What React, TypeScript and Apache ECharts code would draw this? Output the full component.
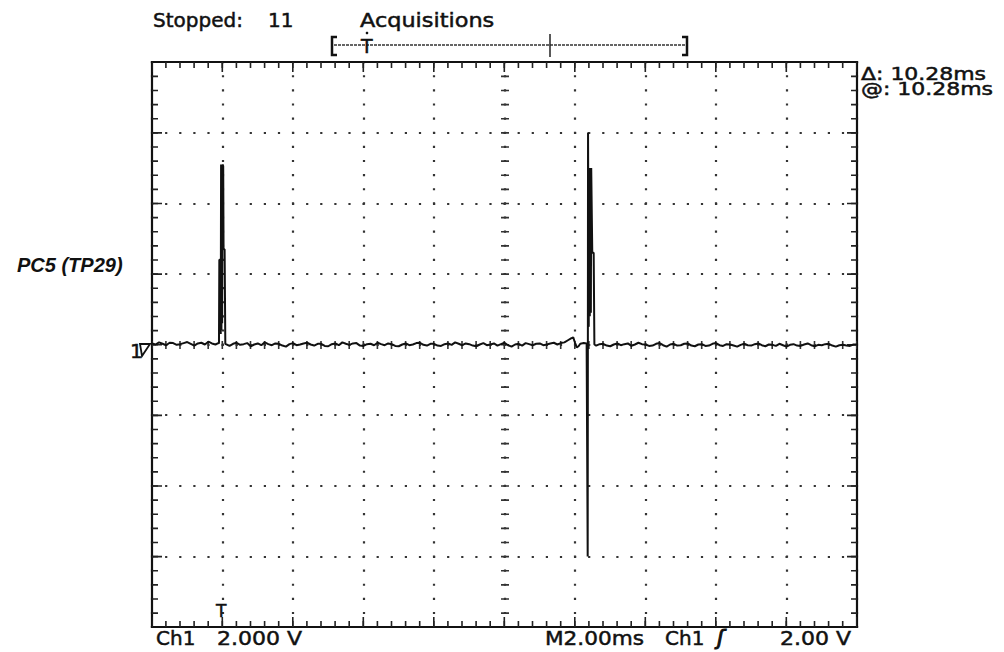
import React, { useEffect, useRef } from "react";
import * as echarts from "echarts";

// Time axis in ms (trigger at 0), voltage axis in V (2 V/div, 2 ms/div)
const timeMin = -2;
const timeMax = 18;
const timeStep = 2;
const voltMin = -8;
const voltMax = 8;
const voltStep = 2;

// baseline before first pulse [ms, V]
const baselineA: [number, number][] = [
  [-2.0, 0.03], [-1.9, 0.0], [-1.8, 0.06], [-1.7, 0.02], [-1.6, -0.02], [-1.5, 0.05], [-1.4, 0.04],
  [-1.3, -0.01], [-1.2, 0.01], [-1.1, 0.04], [-1.0, 0.07], [-0.9, 0.02], [-0.8, -0.03],
  [-0.7, 0.03], [-0.6, 0.05], [-0.5, 0.0], [-0.4, 0.08], [-0.3, 0.03], [-0.2, 0.0], [-0.12, 0.04],
];
// first pulse (PC5 high)
const pulse1: [number, number][] = [
  [-0.1, 0.03], [-0.09, 2.4], [-0.06, 2.4], [-0.05, 0.3], [-0.04, 5.1], [-0.03, 0.4],
  [-0.02, 5.1], [-0.01, 0.6], [0.0, 5.1], [0.02, 5.05], [0.03, 2.7], [0.06, 2.7], [0.08, 0.02],
];
// baseline between pulses
const baselineB: [number, number][] = [
  [0.2, -0.04], [0.3, 0.02], [0.4, 0.05], [0.5, -0.01], [0.6, 0.01], [0.7, 0.04], [0.8, -0.05],
  [0.9, 0.0], [1.0, 0.03], [1.1, -0.02], [1.2, 0.06], [1.3, 0.01], [1.4, -0.02], [1.5, 0.03],
  [1.6, 0.02], [1.7, -0.03], [1.8, -0.06], [1.9, 0.01], [2.0, 0.04], [2.1, -0.02], [2.2, 0.0],
  [2.3, 0.03], [2.4, 0.05], [2.5, 0.0], [2.6, -0.03], [2.7, 0.02], [2.8, 0.02], [2.9, -0.04],
  [3.0, -0.05], [3.1, 0.01], [3.2, 0.03], [3.3, -0.02], [3.4, 0.06], [3.5, 0.02], [3.6, -0.01],
  [3.7, 0.03], [3.8, 0.04], [3.9, -0.03], [4.0, -0.04], [4.1, 0.01], [4.2, 0.02], [4.3, -0.02],
  [4.4, 0.05], [4.5, 0.01], [4.6, -0.02], [4.7, 0.03], [4.8, 0.01], [4.9, -0.04], [5.0, -0.05],
  [5.1, 0.0], [5.2, 0.03], [5.3, -0.02], [5.4, 0.0], [5.5, 0.04], [5.6, 0.05], [5.7, -0.01],
  [5.8, -0.03], [5.9, 0.02], [6.0, 0.02], [6.1, -0.03], [6.2, -0.04], [6.3, 0.01], [6.4, 0.03],
  [6.5, -0.01], [6.6, 0.06], [6.7, 0.02], [6.8, -0.02], [6.9, 0.03], [7.0, 0.01], [7.1, -0.03],
  [7.2, -0.05], [7.3, 0.0], [7.4, 0.04], [7.5, -0.02], [7.6, 0.0], [7.7, 0.03], [7.8, -0.03],
  [7.9, 0.01], [8.0, 0.05], [8.1, -0.02], [8.2, -0.06], [8.3, 0.0], [8.4, 0.02], [8.5, -0.03],
  [8.6, 0.04], [8.7, 0.01], [8.8, -0.02], [8.9, 0.02], [9.0, 0.03], [9.1, -0.02], [9.2, 0.0],
  [9.3, 0.03], [9.4, 0.05], [9.5, 0.0], [9.6, 0.04], [9.7, 0.06], [9.8, 0.12], [9.9, 0.18],
  [9.95, 0.2], [10.0, 0.05], [10.05, -0.08], [10.1, -0.05], [10.15, 0.02], [10.25, 0.04],
];
// second pulse with negative glitch
const pulse2: [number, number][] = [
  [10.33, 0.03], [10.36, -6.0], [10.37, 6.0], [10.39, 0.5], [10.4, 5.0], [10.42, 0.8],
  [10.43, 5.0], [10.45, 0.9], [10.46, 5.0], [10.48, 5.0], [10.49, 2.6], [10.53, 2.6], [10.55, 0.0],
];
// baseline after second pulse
const baselineC: [number, number][] = [
  [10.6, -0.03], [10.7, 0.01], [10.8, 0.02], [10.9, -0.03], [11.0, -0.05], [11.1, 0.0],
  [11.2, 0.03], [11.3, -0.02], [11.4, 0.01], [11.5, 0.03], [11.6, -0.04], [11.7, 0.0],
  [11.8, 0.05], [11.9, 0.01], [12.0, 0.0], [12.1, -0.04], [12.2, -0.03], [12.3, 0.02],
  [12.4, 0.04], [12.5, -0.02], [12.6, -0.06], [12.7, 0.0], [12.8, 0.02], [12.9, -0.03],
  [13.0, -0.02], [13.1, 0.02], [13.2, 0.03], [13.3, -0.03], [13.4, -0.05], [13.5, 0.0],
  [13.6, 0.01], [13.7, -0.04], [13.8, -0.03], [13.9, 0.02], [14.0, 0.04], [14.1, -0.02],
  [14.2, -0.04], [14.3, 0.01], [14.4, 0.0], [14.5, -0.03], [14.6, -0.06], [14.7, -0.01],
  [14.8, 0.02], [14.9, -0.02], [15.0, -0.03], [15.1, 0.01], [15.2, 0.03], [15.3, -0.02],
  [15.4, -0.05], [15.5, 0.0], [15.6, -0.01], [15.7, -0.04], [15.8, 0.02], [15.9, -0.02],
  [16.0, -0.06], [16.1, -0.01], [16.2, 0.01], [16.3, -0.03], [16.4, -0.04], [16.5, 0.0],
  [16.6, 0.03], [16.7, -0.02], [16.8, -0.05], [16.9, -0.01], [17.0, -0.02], [17.1, 0.01],
  [17.2, 0.02], [17.3, -0.03], [17.4, -0.06], [17.5, -0.02], [17.6, -0.01], [17.7, -0.03],
  [17.8, -0.04], [17.9, 0.0], [18.0, 0.0],
];

const channelLabel = "PC5 (TP29)";
const statusLabel = "Stopped:";
const acqCount = "11";
const acqLabel = "Acquisitions";
const deltaLabel = "\u0394: 10.28ms";
const atLabel = "@: 10.28ms";
const ch1Label = "Ch1";
const ch1Scale = "2.000 V";
const timebaseLabel = "M2.00ms";
const trigChLabel = "Ch1";
const trigSlope = "\u0283";
const trigLevel = "2.00 V";

const GRID = { left: 152, top: 62, width: 705, height: 565 };
const FONT = "'DejaVu Sans', 'Liberation Sans', sans-serif";
const MINOR_X = GRID.width / 50;
const MINOR_Y = GRID.height / 40;
const MAJOR_X = GRID.width / 10;
const MAJOR_Y = GRID.height / 8;

const hidden = {
  axisLabel: { show: false },
  axisTick: { show: false },
  minorTick: { show: false },
  splitLine: { show: false },
};

function lineStyleOf(width: number, dash: number[] | null, color: string) {
  return dash
    ? { color, width, type: dash, dashOffset: dash[0] / 2, cap: "butt" }
    : { color, width, cap: "square" };
}

function xAx(position: string, offset: number, width: number, dash: number[] | null, color = "#111") {
  return {
    type: "value",
    min: timeMin,
    max: timeMax,
    interval: timeStep,
    position,
    offset,
    ...hidden,
    axisLine: { show: true, onZero: false, lineStyle: lineStyleOf(width, dash, color) },
  };
}
function yAx(position: string, offset: number, width: number, dash: number[] | null, color = "#111") {
  return {
    type: "value",
    min: voltMin,
    max: voltMax,
    interval: voltStep,
    position,
    offset,
    ...hidden,
    axisLine: { show: true, onZero: false, lineStyle: lineStyleOf(width, dash, color) },
  };
}

function txt(text: string, x: number, y: number, size: number, opts: any = {}) {
  return {
    type: "text",
    x,
    y,
    scaleX: opts.scaleX ?? 1,
    z: 10,
    style: {
      text,
      fill: "#111",
      stroke: opts.stroke ?? "#111",
      lineWidth: opts.lw ?? 0.5,
      fontSize: size,
      fontFamily: opts.family ?? FONT,
      fontWeight: opts.weight ?? "normal",
      fontStyle: opts.style ?? "normal",
      align: "left",
      verticalAlign: "middle",
    },
  };
}

export default function App() {
  const ref = useRef<HTMLDivElement>(null);
  useEffect(() => {
    if (!ref.current) return;
    const chart = echarts.init(ref.current, null, { renderer: "svg" });
    const trace = [...baselineA, ...pulse1, ...baselineB, ...pulse2, ...baselineC];
    const cx = -GRID.height / 2;
    const cy = -GRID.width / 2;
    const tw = 1.6;
    const minorXDash = [tw, MINOR_X - tw];
    const minorYDash = [tw, MINOR_Y - tw];
    const majorXDash = [tw, MAJOR_X - tw];
    const majorYDash = [tw, MAJOR_Y - tw];
    const dot = 2.2;
    const xMain: any = xAx("bottom", 0, 2.2, null);
    xMain.splitLine = {
      show: true,
      lineStyle: { color: "#333", width: dot, type: [dot, MINOR_Y - dot], dashOffset: dot / 2, cap: "butt" },
    };
    const yMain: any = yAx("left", 0, 2.2, null);
    yMain.splitLine = {
      show: true,
      lineStyle: { color: "#333", width: dot, type: [dot, MINOR_X - dot], dashOffset: dot / 2, cap: "butt" },
    };
    const option: any = {
      animation: false,
      backgroundColor: "#fff",
      grid: { left: GRID.left, top: GRID.top, width: GRID.width, height: GRID.height, containLabel: false },
      xAxis: [
        xMain,
        xAx("top", 0, 2.2, null),
        // border minor ticks (inside)
        xAx("bottom", -3, 6, minorXDash, "#222"),
        xAx("top", -3, 6, minorXDash, "#222"),
        // border major ticks
        xAx("bottom", -5, 10, majorXDash, "#222"),
        xAx("top", -5, 10, majorXDash, "#222"),
        // centre cross ticks
        xAx("bottom", cx, 8, minorXDash, "#333"),
      ],
      yAxis: [
        yMain,
        yAx("right", 0, 2.2, null),
        yAx("left", -3, 6, minorYDash, "#222"),
        yAx("right", -3, 6, minorYDash, "#222"),
        yAx("left", -5, 10, majorYDash, "#222"),
        yAx("right", -5, 10, majorYDash, "#222"),
        yAx("left", cy, 8, minorYDash, "#333"),
      ],
      series: [
        {
          type: "line",
          xAxisIndex: 0,
          yAxisIndex: 0,
          data: trace,
          showSymbol: false,
          symbol: "none",
          lineStyle: { color: "#111", width: 2 },
          z: 5,
        },
      ],
      graphic: [
        txt(statusLabel, 153, 20, 20),
        txt(acqCount, 268, 20, 20),
        txt(acqLabel, 360, 20, 20, { scaleX: 1.12 }),
        // record length bar
        {
          type: "line",
          shape: { x1: 334, y1: 45, x2: 685, y2: 45 },
          style: { stroke: "#333", lineWidth: 1.3, lineDash: [3, 1] },
        },
        {
          type: "polyline",
          shape: { points: [[337, 37], [332, 37], [332, 55], [337, 55]] },
          style: { stroke: "#111", lineWidth: 2.5, fill: "none" },
        },
        {
          type: "polyline",
          shape: { points: [[682, 37], [687, 37], [687, 55], [682, 55]] },
          style: { stroke: "#111", lineWidth: 2.5, fill: "none" },
        },
        {
          type: "line",
          shape: { x1: 550, y1: 34, x2: 550, y2: 57 },
          style: { stroke: "#222", lineWidth: 1.5 },
        },
        txt("T", 361, 46, 19),
        { type: "circle", shape: { cx: 367, cy: 33, r: 1.3 }, style: { fill: "#111" } },
        // readouts
        txt(deltaLabel, 861, 74, 18, { scaleX: 1.22 }),
        txt(atLabel, 861, 89, 18, { scaleX: 1.22 }),
        // channel name
        txt(channelLabel, 17, 265, 20, {
          family: "'Liberation Sans', Arial, sans-serif",
          weight: "bold",
          style: "italic",
          lw: 0,
        }),
        // channel ground marker
        txt("1", 130, 351, 20),
        {
          type: "polygon",
          shape: { points: [[140, 344], [150, 344], [142, 356]] },
          style: { fill: "none", stroke: "#111", lineWidth: 1.8 },
        },
        // trigger position marker
        txt("T", 216, 611, 17),
        // bottom status line
        txt(ch1Label, 156, 638, 20),
        txt(ch1Scale, 217, 638, 20, { scaleX: 1.1 }),
        txt(timebaseLabel, 545, 638, 20, { scaleX: 1.08 }),
        txt(trigChLabel, 665, 638, 20),
        txt(trigSlope, 717, 638, 21, { style: "italic", lw: 1 }),
        txt(trigLevel, 780, 638, 20, { scaleX: 1.1 }),
      ],
    };
    chart.setOption(option);
    return () => chart.dispose();
  }, []);
  return (
    <div
      ref={ref}
      style={{ position: "fixed", left: 0, top: 0, width: 1004, height: 652, background: "#fff" }}
    />
  );
}
